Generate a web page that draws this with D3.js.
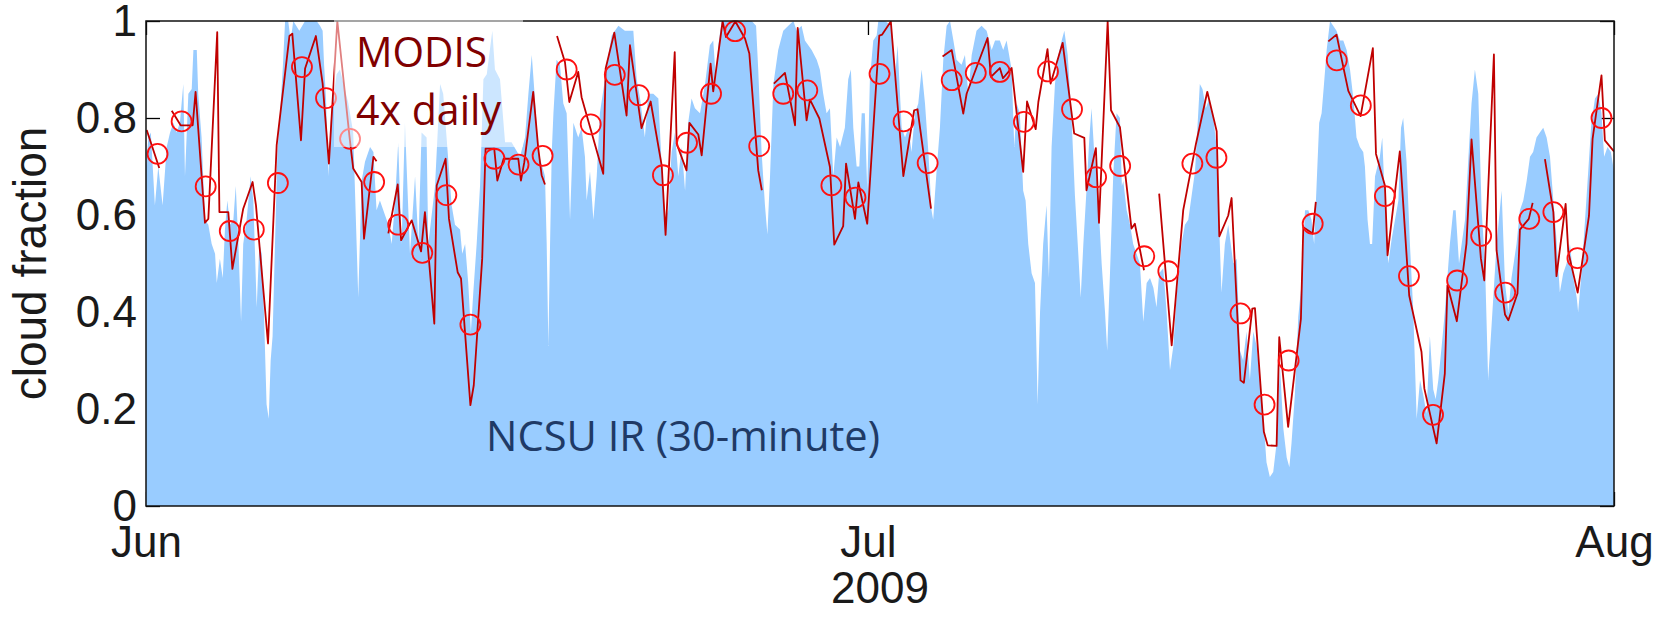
<!DOCTYPE html>
<html>
<head>
<meta charset="utf-8">
<script src="https://cdn.jsdelivr.net/npm/d3@7"></script>
<style>
  body { margin: 0; background: #fff; }
  svg { display: block; }
</style>
</head>
<body>
<svg id="chart" width="1673" height="617"></svg>
<script>
// NCSU infrared cloud fraction (30-minute record), days since 1 June 2009
const irDay = [
  0.00,0.10,0.20,0.37,0.51,0.69,0.86,1.00,1.14,1.27,1.41,1.55,1.62,1.76,1.90,1.97,2.11,2.17,2.31,2.45,
  2.59,2.73,2.87,2.94,3.07,3.19,3.28,3.38,3.49,3.63,3.73,3.84,3.95,4.04,4.18,4.35,4.46,4.60,4.71,4.81,
  4.90,5.01,5.10,5.18,5.26,5.36,5.46,5.57,5.68,5.78,5.91,6.01,6.12,6.37,6.61,6.88,7.09,7.23,7.34,7.40,
  7.48,7.58,7.67,7.78,7.92,8.06,8.41,8.61,8.82,8.96,9.10,9.31,9.45,9.58,9.72,9.93,
  10.07,10.21,10.35,10.48,10.62,10.76,10.97,11.18,11.32,11.45,11.66,11.73,12.01,12.22,12.35,12.49,12.70,12.84,
  13.05,13.14,13.26,13.39,13.50,13.60,13.74,13.88,14.02,14.16,14.39,14.50,14.71,14.92,15.19,15.54,15.75,15.89,
  16.03,16.16,16.30,16.58,16.65,16.72,16.79,16.86,16.93,17.06,17.20,17.34,17.48,17.62,17.76,17.96,18.10,18.24,
  18.31,18.45,18.59,18.73,18.86,19.07,19.21,19.35,19.63,19.90,
  20.11,20.25,20.39,20.53,20.73,20.87,21.08,21.29,21.43,21.56,21.70,21.84,21.98,22.12,22.26,22.40,22.53,22.67,
  22.81,23.02,23.23,23.43,23.57,23.68,23.78,23.92,24.27,24.82,25.17,25.35,25.44,25.58,25.72,25.82,25.93,26.07,
  26.27,26.48,26.69,26.90,27.04,27.24,27.38,27.66,27.87,28.00,28.14,28.28,28.42,28.56,28.70,28.84,29.04,29.18,
  29.29,29.39,29.53,29.64,29.74,29.87,29.97,30.08,30.22,30.36,
  30.43,30.71,30.98,31.12,31.23,31.40,31.54,31.68,31.81,31.95,32.09,32.23,32.37,32.51,32.64,32.71,32.85,32.99,
  33.13,33.27,33.41,33.55,33.68,33.89,34.03,34.17,34.31,34.51,34.72,34.93,35.14,35.28,35.48,35.62,35.76,35.97,
  36.08,36.18,36.31,36.45,36.55,36.66,36.80,36.94,37.05,37.15,37.28,37.42,37.52,37.63,37.77,37.91,38.05,38.16,
  38.30,38.46,38.60,38.74,38.84,38.95,39.09,39.20,39.29,39.40,39.54,39.71,39.85,39.94,40.05,40.19,40.33,40.47,
  40.55,40.61,40.75,40.89,41.02,41.16,41.30,41.44,41.58,41.72,41.86,41.99,42.10,42.27,42.41,42.55,42.69,42.82,
  43.03,43.17,43.31,43.45,43.59,43.79,43.90,44.04,44.18,44.35,44.49,44.60,44.69,44.83,44.97,45.18,45.32,45.46,
  45.59,45.73,45.87,46.01,46.15,46.29,46.43,46.56,46.70,46.84,46.98,47.12,47.26,47.40,47.51,47.60,47.74,47.88,
  48.02,48.16,48.30,48.43,48.54,48.64,48.75,48.85,48.95,49.06,49.20,49.33,49.47,49.61,49.75,49.89,50.03,50.17,
  50.30,50.44,50.58,
  50.65,50.76,50.86,50.95,51.07,51.27,51.37,51.48,51.62,51.76,51.90,52.04,52.15,52.24,52.38,52.52,52.66,52.80,
  52.94,53.07,53.21,53.35,53.49,53.59,53.70,53.84,53.97,54.18,54.32,54.42,54.56,54.67,54.81,54.94,55.08,55.22,
  55.36,55.50,55.64,55.77,55.91,56.12,56.33,56.47,56.61,56.74,56.95,57.09,57.23,57.37,57.51,57.64,57.78,57.92,
  58.06,58.20,58.34,58.48,58.61,58.75,58.89,59.03,59.17,59.31,59.45,59.51,59.65,59.85,60.06,60.21,60.35,60.48,
  60.59,60.73,60.87,61.00
];
const irCloud = [
  0.70,0.76,0.77,0.62,0.70,0.62,0.74,0.77,0.79,0.77,0.79,0.87,0.68,0.85,0.86,0.94,0.94,0.85,0.76,0.59,
  0.58,0.54,0.52,0.46,0.51,0.47,0.57,0.63,0.58,0.59,0.66,0.54,0.38,0.54,0.59,0.68,0.63,0.41,0.54,0.52,
  0.40,0.21,0.18,0.30,0.35,0.54,0.73,0.81,0.90,1.00,1.00,0.96,1.00,0.98,1.00,1.00,1.00,0.99,0.98,0.91,
  0.84,0.68,0.79,0.84,0.89,0.90,0.83,0.77,0.43,0.67,0.71,0.74,0.73,0.61,0.63,0.60,
  0.58,0.54,0.63,0.75,0.54,0.79,0.52,0.68,0.54,0.77,0.76,0.54,0.66,0.87,0.85,0.76,0.62,0.58,
  0.57,0.52,0.54,0.46,0.36,0.44,0.54,0.66,0.88,0.89,0.98,0.90,0.88,0.75,0.75,0.72,0.76,0.85,
  0.93,0.84,0.73,0.68,0.54,0.33,0.54,0.73,0.81,0.92,0.91,0.83,0.81,0.59,0.79,0.76,0.78,0.72,
  0.63,0.69,0.59,0.68,0.81,0.88,0.93,0.97,0.99,0.98,
  0.98,0.98,0.88,0.84,0.76,0.85,0.85,0.84,0.70,0.59,0.61,0.73,0.77,0.68,0.74,0.65,0.79,0.84,
  0.82,0.81,0.87,0.95,0.96,0.88,0.95,1.00,1.00,1.00,1.00,0.99,0.90,0.73,0.62,0.56,0.68,0.87,
  0.94,0.98,0.99,1.00,0.98,0.99,0.96,0.94,0.92,0.90,0.85,0.81,0.82,0.68,0.76,0.74,0.78,0.88,
  0.90,0.78,0.70,0.70,0.81,0.81,0.65,0.88,0.96,0.97,
  1.00,1.00,0.99,0.88,0.95,0.78,0.76,0.78,0.73,0.81,0.83,0.90,0.83,0.73,0.61,0.59,0.69,0.78,
  0.92,0.99,1.00,0.96,0.92,0.91,0.93,0.85,0.93,0.98,0.99,0.98,0.94,0.96,0.96,0.94,0.96,0.90,
  0.74,0.83,0.81,0.65,0.63,0.54,0.48,0.46,0.21,0.40,0.54,0.62,0.47,0.74,0.87,0.93,0.96,0.98,
  0.93,0.80,0.64,0.52,0.43,0.54,0.66,0.76,0.82,0.73,0.66,0.50,0.40,0.32,0.47,0.68,0.81,0.80,
  0.66,0.67,0.61,0.58,0.54,0.52,0.50,0.38,0.46,0.47,0.45,0.41,0.48,0.49,0.40,0.28,0.33,0.43,
  0.54,0.58,0.59,0.64,0.69,0.87,0.86,0.82,0.84,0.80,0.74,0.57,0.44,0.54,0.58,0.50,0.51,0.32,
  0.30,0.36,0.26,0.36,0.33,0.26,0.18,0.09,0.06,0.07,0.13,0.29,0.16,0.10,0.08,0.13,0.23,0.39,
  0.46,0.61,0.61,0.59,0.54,0.66,0.79,0.81,0.87,0.94,1.00,0.99,0.98,0.96,0.96,0.94,0.90,0.84,
  0.76,0.74,0.73,
  0.70,0.59,0.54,0.54,0.68,0.72,0.76,0.63,0.50,0.55,0.59,0.63,0.78,0.80,0.71,0.54,0.40,0.18,
  0.26,0.23,0.19,0.35,0.24,0.22,0.26,0.33,0.40,0.54,0.61,0.61,0.50,0.54,0.59,0.71,0.83,0.90,
  0.85,0.61,0.50,0.26,0.37,0.54,0.65,0.46,0.40,0.47,0.54,0.61,0.63,0.67,0.72,0.73,0.76,0.77,
  0.78,0.76,0.72,0.63,0.55,0.44,0.48,0.50,0.54,0.47,0.43,0.40,0.48,0.63,0.79,0.84,0.85,0.81,
  0.72,0.74,0.73,0.69
];

// MODIS overpasses (4x daily); null breaks the line where passes are missing
const modisDay = [
  0.03,0.55,null,
  1.07,1.44,1.94,2.06,2.45,2.59,2.96,3.05,3.42,3.59,4.04,4.43,4.57,5.07,5.43,5.96,6.08,6.44,6.61,7.06,7.34,7.60,
  7.95,8.45,8.61,8.96,9.06,9.45,9.58,null,
  10.07,10.46,10.60,11.04,11.43,11.59,11.98,12.08,12.45,12.59,12.95,13.09,13.48,13.62,13.97,14.11,14.47,14.60,
  14.86,15.47,15.58,15.72,16.09,16.30,16.44,16.58,null,
  17.08,17.41,17.59,17.96,18.10,19.00,19.10,19.46,19.97,20.11,20.59,20.97,21.43,21.59,21.97,22.05,22.46,22.58,
  22.95,23.09,23.46,23.57,23.96,24.10,24.49,24.89,25.07,25.44,25.59,null,
  26.09,26.55,26.97,27.08,27.45,27.59,27.98,28.42,28.60,28.97,29.09,29.46,29.60,29.97,30.47,30.59,30.95,31.47,
  31.92,32.06,32.62,null,
  33.10,33.48,33.96,34.10,34.97,35.11,35.48,35.61,35.97,36.45,36.61,36.97,37.08,37.46,37.59,38.09,38.57,38.99,
  39.08,39.47,39.60,39.96,40.10,40.47,40.95,41.09,41.47,null,
  42.10,42.62,43.10,43.63,44.10,44.49,44.60,44.97,45.11,45.48,45.62,45.97,46.08,46.45,46.61,46.98,47.09,47.46,
  47.99,48.09,48.48,48.61,null,
  49.13,49.47,49.96,50.47,50.98,51.11,51.48,51.59,52.10,52.49,53.00,53.12,53.63,53.97,54.08,54.47,54.87,55.08,
  55.47,55.61,56.01,56.12,56.47,56.61,56.99,57.09,57.46,57.62,null,
  58.13,58.48,58.61,58.99,59.10,59.49,59.96,60.11,60.48,60.62,61.00
];
const modisCloud = [
  0.775,0.697,null,
  0.815,0.785,0.785,0.854,0.584,0.592,0.977,0.606,0.606,0.489,0.613,0.668,0.620,0.335,0.744,0.969,0.974,0.754,0.902,0.969,0.871,0.706,
  1.000,0.764,0.696,0.668,0.551,0.720,0.711,null,
  0.562,0.663,0.548,0.589,0.525,0.606,0.376,0.661,0.716,0.592,0.482,0.469,0.208,0.249,0.510,0.737,0.737,0.671,
  0.716,0.716,0.671,0.709,0.854,0.737,0.682,0.663,null,
  0.969,0.915,0.833,0.895,0.843,0.685,0.902,0.976,0.805,0.950,0.779,0.834,0.702,0.559,0.936,0.747,0.692,0.790,
  0.766,0.723,0.912,0.855,0.999,0.967,0.999,0.964,0.933,0.692,0.651,null,
  0.871,0.893,0.785,0.986,0.795,0.838,0.799,0.699,0.539,0.577,0.706,0.592,0.667,0.582,0.970,0.972,0.999,0.680,
  0.816,0.818,0.613,null,
  0.927,0.940,0.809,0.850,0.965,0.885,0.903,0.882,0.903,0.689,0.834,0.777,0.833,0.942,0.871,0.955,0.768,0.759,
  0.651,0.738,0.584,0.999,0.816,0.781,0.572,0.582,0.486,null,
  0.644,0.331,0.610,0.747,0.854,0.773,0.556,0.599,0.635,0.259,0.254,0.407,0.408,0.153,0.125,0.124,0.348,0.163,
  0.386,0.575,0.562,0.627,null,
  0.958,0.972,0.856,0.804,0.944,0.726,0.661,0.517,0.731,0.434,0.318,0.242,0.129,0.273,0.455,0.381,0.541,0.756,
  0.510,0.465,0.931,0.527,0.395,0.383,0.438,0.570,0.592,0.625,null,
  0.715,0.606,0.474,0.623,0.524,0.440,0.598,0.757,0.888,0.754,0.731
];

// MODIS daily means, one per day from 1 June
const dailyDay = [
   0, 1, 2, 3, 4, 5, 6, 7, 8, 9,10,11,12,13,14,15,16,17,18,19,
  20,21,22,23,24,25,26,27,28,29,30,31,32,33,34,35,36,37,38,39,
  40,41,42,43,44,45,46,47,48,49,50,51,52,53,54,55,56,57,58,59,60
];
const dailyCloud = [
  0.726,0.793,0.659,0.567,0.570,0.666,0.905,0.841,0.757,0.668,
  0.580,0.522,0.641,0.374,0.716,0.704,0.722,0.900,0.787,0.889,
  0.847,0.682,0.749,0.850,0.979,0.742,0.850,0.857,0.661,0.636,
  0.891,0.793,0.707,0.878,0.893,0.895,0.792,0.896,0.818,0.678,
  0.701,0.515,0.484,0.706,0.718,0.397,0.209,0.300,0.582,0.919,
  0.826,0.639,0.474,0.188,0.465,0.557,0.440,0.592,0.606,0.511,0.800
];

const yTicks = [0, 0.2, 0.4, 0.6, 0.8, 1];
const monthTicks = ["2009-06-01", "2009-07-01", "2009-08-01"];
const yearLabel = "2009";
const yLabel = "cloud fraction";
const legendLines = ["MODIS", "4x daily"];
const irLabel = "NCSU IR (30-minute)";

// ---- layout ----
const W = 1673, H = 617;
const plot = { left: 146, right: 1614, top: 21, bottom: 506 };
const start = Date.UTC(2009, 5, 1);
const dayMs = 864e5;
const toDate = d => new Date(start + d * dayMs);

const x = d3.scaleUtc()
  .domain([new Date(monthTicks[0] + "T00:00Z"), new Date(monthTicks[2] + "T00:00Z")])
  .range([plot.left, plot.right]);
const y = d3.scaleLinear().domain([0, 1]).range([plot.bottom, plot.top]);

const svg = d3.select("#chart");
const tickFont = "'Liberation Sans', Arial, Helvetica, sans-serif";
const noteFont = "'Open Sans', 'Noto Sans', sans-serif";

svg.append("defs").append("clipPath").attr("id", "plotClip")
  .append("rect")
  .attr("x", plot.left).attr("y", plot.top)
  .attr("width", plot.right - plot.left).attr("height", plot.bottom - plot.top);

// ---- axes: inward ticks sit beneath the data ----
const monthDates = monthTicks.map(s => new Date(s + "T00:00Z"));
const styleAxis = g => {
  g.select(".domain").remove();
  g.selectAll(".tick line").attr("stroke", "#000").attr("stroke-width", 1.3);
  g.selectAll("text").attr("fill", "#1a1a1a").attr("font-family", tickFont).attr("font-size", 44);
};

svg.append("g").attr("transform", `translate(${plot.left},0)`)
  .call(d3.axisLeft(y).tickValues(yTicks).tickFormat(d3.format("~g")).tickSize(-14).tickPadding(9))
  .call(styleAxis);
svg.append("g").attr("transform", `translate(${plot.right},0)`)
  .call(d3.axisRight(y).tickValues(yTicks).tickFormat("").tickSize(-14))
  .call(styleAxis);
svg.append("g").attr("transform", `translate(0,${plot.bottom})`)
  .call(d3.axisBottom(x).tickValues(monthDates).tickFormat(d3.utcFormat("%b")).tickSize(-14).tickPadding(20))
  .call(styleAxis);
svg.append("g").attr("transform", `translate(0,${plot.top})`)
  .call(d3.axisTop(x).tickValues(monthDates).tickFormat("").tickSize(-14))
  .call(styleAxis);

svg.append("text")
  .attr("x", (plot.left + plot.right) / 2).attr("y", 603)
  .attr("text-anchor", "middle")
  .attr("font-family", tickFont).attr("font-size", 44).attr("fill", "#1a1a1a")
  .text(yearLabel);

svg.append("text")
  .attr("transform", `translate(46,${(plot.top + plot.bottom) / 2}) rotate(-90)`)
  .attr("text-anchor", "middle")
  .attr("font-family", tickFont).attr("font-size", 46).attr("fill", "#1a1a1a")
  .text(yLabel);

// ---- data ----
const ir = irDay.map((d, i) => ({ t: toDate(d), v: irCloud[i] }));
const modis = modisDay.map((d, i) => ({ t: d == null ? null : toDate(d), v: modisCloud[i] }));
const daily = dailyDay.map((d, i) => ({ t: toDate(d + 0.48), v: dailyCloud[i] }));

const data = svg.append("g").attr("clip-path", "url(#plotClip)");

data.append("path")
  .datum(ir)
  .attr("fill", "#99ccff")
  .attr("d", d3.area().x(d => x(d.t)).y0(y(0)).y1(d => y(d.v)));

data.append("path")
  .datum(modis)
  .attr("fill", "none")
  .attr("stroke", "#c00000")
  .attr("stroke-width", 1.8)
  .attr("stroke-linejoin", "round")
  .attr("d", d3.line().defined(d => d.v != null).x(d => x(d.t)).y(d => y(d.v)));

svg.append("g").selectAll("circle")
  .data(daily)
  .join("circle")
  .attr("cx", d => x(d.t)).attr("cy", d => y(d.v)).attr("r", 10)
  .attr("fill", "none").attr("stroke", "#ff1010").attr("stroke-width", 1.8);

// ---- axes box ----
svg.append("rect")
  .attr("x", plot.left).attr("y", plot.top)
  .attr("width", plot.right - plot.left).attr("height", plot.bottom - plot.top)
  .attr("fill", "none").attr("stroke", "#111").attr("stroke-width", 1.5);

// ---- annotations ----
svg.append("rect")
  .attr("x", 334).attr("y", 19).attr("width", 189).attr("height", 128)
  .attr("fill", "#fff").attr("fill-opacity", 0.5);

const legendWidths = [131, 145];
svg.append("g").selectAll("text")
  .data(legendLines)
  .join("text")
  .attr("x", 356).attr("y", (d, i) => 67 + i * 58)
  .attr("font-family", noteFont).attr("font-size", 42).attr("fill", "#800000")
  .attr("textLength", (d, i) => legendWidths[i]).attr("lengthAdjust", "spacingAndGlyphs")
  .text(d => d);

svg.append("text")
  .attr("x", 486).attr("y", 451)
  .attr("font-family", noteFont).attr("font-size", 42).attr("fill", "#1f3a66")
  .attr("textLength", 394).attr("lengthAdjust", "spacingAndGlyphs")
  .text(irLabel);
</script>
</body>
</html>
